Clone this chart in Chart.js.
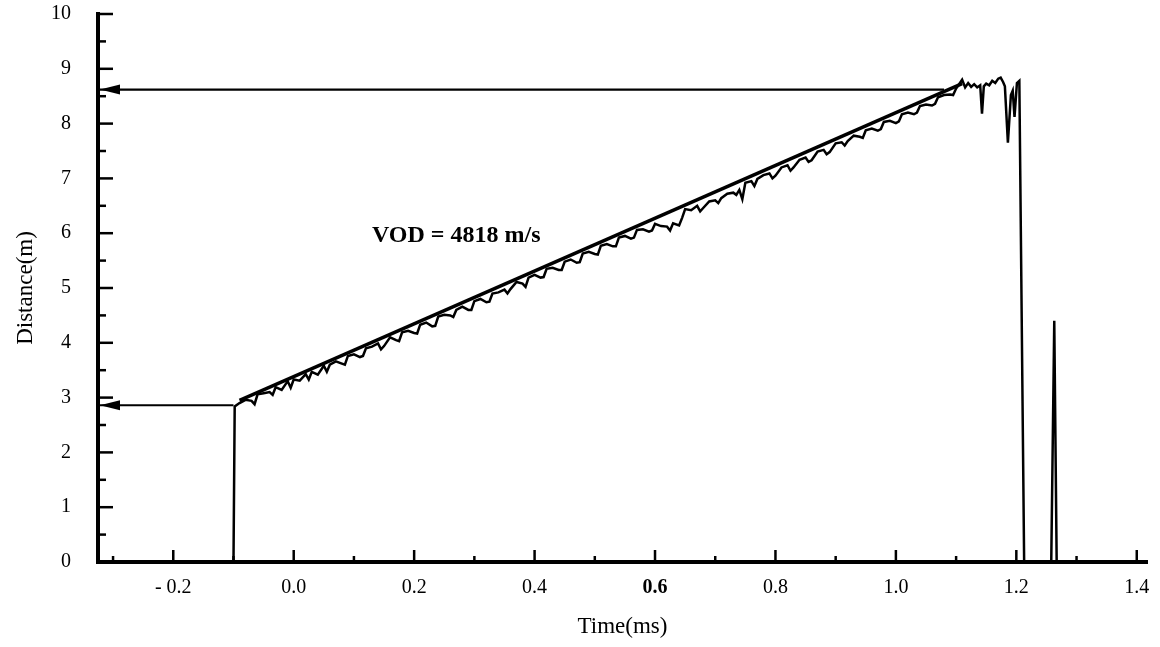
<!DOCTYPE html>
<html>
<head>
<meta charset="utf-8">
<script src="https://cdn.jsdelivr.net/npm/chart.js@4/dist/chart.umd.min.js"></script>
<style>
  html, body { margin: 0; padding: 0; background: #fff; }
  #wrap { width: 1160px; height: 647px; }
</style>
</head>
<body>
<div id="wrap"><canvas id="vodChart" width="1160" height="647"></canvas></div>
<script>
const SERIF = '"Liberation Serif", "Times New Roman", serif';

// axes
const X_MIN = -0.325;
const X_MAX = 1.417;
const xTickValues = [-0.2, 0.0, 0.2, 0.4, 0.6, 0.8, 1.0, 1.2, 1.4];
const xTickLabels = ['- 0.2', '0.0', '0.2', '0.4', '0.6', '0.8', '1.0', '1.2', '1.4'];
const yTickValues = [0, 1, 2, 3, 4, 5, 6, 7, 8, 9, 10];
const yTickLabels = ['0', '1', '2', '3', '4', '5', '6', '7', '8', '9', '10'];

// measured trace (time in ms, distance in m)
const traceTimes = [
  -0.325, -0.100, -0.098,
  -0.09, -0.08, -0.07, -0.06, -0.05, -0.04, -0.03, -0.02, -0.01,
  0.00, 0.01, 0.02, 0.03, 0.04, 0.05, 0.06, 0.07, 0.08, 0.09,
  0.10, 0.11, 0.12, 0.13, 0.14, 0.15, 0.16, 0.17, 0.18, 0.19,
  0.20, 0.21, 0.22, 0.23, 0.24, 0.25, 0.26, 0.27, 0.28, 0.29,
  0.30, 0.31, 0.32, 0.33, 0.34, 0.35, 0.36, 0.37, 0.38, 0.39,
  0.40, 0.41, 0.42, 0.43, 0.44, 0.45, 0.46, 0.47, 0.48, 0.49,
  0.50, 0.51, 0.52, 0.53, 0.54, 0.55, 0.56, 0.57, 0.58, 0.59,
  0.60, 0.61, 0.62, 0.63, 0.64, 0.645,
  0.65, 0.66, 0.67, 0.68, 0.69, 0.70, 0.71, 0.72, 0.73, 0.74, 0.745,
  0.75, 0.76, 0.77, 0.78, 0.79,
  0.80, 0.81, 0.82, 0.83, 0.84, 0.85, 0.86, 0.87, 0.88, 0.89,
  0.90, 0.91, 0.92, 0.93, 0.94, 0.95, 0.96, 0.97, 0.98, 0.99,
  1.00, 1.01, 1.02, 1.03, 1.04, 1.05, 1.06, 1.07, 1.08, 1.09,
  1.10, 1.11,
  1.115, 1.12, 1.125, 1.13, 1.135, 1.14, 1.143, 1.146,
  1.15, 1.155, 1.16, 1.165, 1.17, 1.174, 1.178, 1.181, 1.186, 1.191,
  1.194, 1.197, 1.201, 1.205, 1.213, 1.258, 1.263, 1.267, 1.417
];
const traceDistances = [
  0.00, 0.00, 2.84,
  2.90, 2.96, 2.94, 3.06, 3.08, 3.10, 3.19, 3.14, 3.30,
  3.33, 3.31, 3.43, 3.47, 3.42, 3.58, 3.60, 3.66, 3.62, 3.76,
  3.79, 3.74, 3.90, 3.93, 3.99, 3.94, 4.10, 4.05, 4.19, 4.22,
  4.18, 4.33, 4.37, 4.30, 4.48, 4.51, 4.50, 4.60, 4.66, 4.60,
  4.76, 4.80, 4.74, 4.90, 4.92, 4.97, 4.98, 5.11, 5.08, 5.19,
  5.24, 5.19, 5.35, 5.37, 5.33, 5.48, 5.52, 5.46, 5.63, 5.66,
  5.62, 5.77, 5.80, 5.76, 5.92, 5.95, 5.90, 6.06, 6.07, 6.03,
  6.17, 6.13, 6.12, 6.18, 6.14, 6.28,
  6.44, 6.42, 6.50, 6.46, 6.58, 6.60, 6.64, 6.72, 6.74, 6.79, 6.62,
  6.92, 6.95, 6.99, 7.06, 7.09,
  7.05, 7.20, 7.24, 7.20, 7.34, 7.38, 7.33, 7.49, 7.52, 7.48,
  7.64, 7.66, 7.68, 7.78, 7.76, 7.88, 7.91, 7.87, 8.03, 8.05,
  8.01, 8.17, 8.20, 8.17, 8.32, 8.35, 8.33, 8.48, 8.52, 8.53,
  8.64, 8.80,
  8.66, 8.74, 8.67, 8.72, 8.66, 8.70, 8.18, 8.68,
  8.73, 8.70, 8.78, 8.74, 8.82, 8.84, 8.76, 8.68, 7.65, 8.52,
  8.60, 8.12, 8.74, 8.78, 0.00, 0.00, 4.40, 0.00, 0.00
];

// short downward noise spikes between the samples above
const spikeTimes = [
  -0.065, -0.035, -0.005, 0.025, 0.055, 0.085, 0.115, 0.145, 0.175, 0.205,
  0.235, 0.265, 0.295, 0.325, 0.355, 0.385, 0.415, 0.445, 0.475, 0.505,
  0.535, 0.565, 0.595, 0.625, 0.675, 0.705, 0.735, 0.765, 0.795, 0.825,
  0.855, 0.885, 0.915, 0.945, 0.975, 1.005, 1.035, 1.065, 1.095
];
const spikeDistances = [
  2.88, 3.05, 3.18, 3.33, 3.47, 3.60, 3.76, 3.88, 4.03, 4.17,
  4.31, 4.47, 4.60, 4.75, 4.90, 5.02, 5.20, 5.33, 5.47, 5.61,
  5.76, 5.92, 6.05, 6.05, 6.40, 6.55, 6.70, 6.86, 7.00, 7.14,
  7.30, 7.44, 7.60, 7.74, 7.90, 8.04, 8.20, 8.36, 8.52
];

// least-squares line, VOD = 4818 m/s
const fitTimes = [-0.09, 1.11];
const fitDistances = [2.95, 8.73];

// arrows pointing to the y axis
const arrowLevels = [8.62, 2.86];
const arrowEnds = [1.08, -0.10];

const vodLabel = 'VOD = 4818 m/s';
const vodAt = { x: 0.13, y: 5.96 };

function toPoints(xs, ys) {
  return xs.map((x, i) => ({ x: x, y: ys[i] }));
}

const tracePoints = toPoints(traceTimes, traceDistances)
  .concat(toPoints(spikeTimes, spikeDistances))
  .sort((a, b) => a.x - b.x);

const arrowDatasets = arrowLevels.map((lvl, i) => ({
  label: 'arrow' + i,
  data: [{ x: X_MIN, y: lvl }, { x: arrowEnds[i], y: lvl }],
  borderColor: '#000',
  borderWidth: 2.2,
  pointRadius: 0
}));

// ticks pointing into the plot + arrowheads + VOD text
const decorPlugin = {
  id: 'decor',
  afterDatasetsDraw(chart) {
    const { ctx, scales: { x, y } } = chart;
    ctx.save();
    ctx.fillStyle = '#000';
    arrowLevels.forEach(lvl => {
      const py = y.getPixelForValue(lvl);
      const px = x.getPixelForValue(X_MIN) + 2;
      ctx.beginPath();
      ctx.moveTo(px, py);
      ctx.lineTo(px + 20, py - 5);
      ctx.lineTo(px + 20, py + 5);
      ctx.closePath();
      ctx.fill();
    });
    ctx.restore();
  },
  afterDraw(chart) {
    const { ctx, chartArea, scales: { x, y } } = chart;
    ctx.save();
    ctx.strokeStyle = '#000';
    ctx.lineWidth = 2.5;
    // y ticks: every 0.5, long on integers
    for (let v = 0; v <= 10; v += 0.5) {
      const py = y.getPixelForValue(v);
      const len = Number.isInteger(v) ? 15 : 8;
      ctx.beginPath();
      ctx.moveTo(chartArea.left, py);
      ctx.lineTo(chartArea.left + len, py);
      ctx.stroke();
    }
    // x ticks: every 0.1, long on labelled ones
    for (let k = -3; k <= 14; k++) {
      const px = x.getPixelForValue(k / 10);
      const len = k % 2 === 0 ? 12 : 6;
      ctx.beginPath();
      ctx.moveTo(px, chartArea.bottom);
      ctx.lineTo(px, chartArea.bottom - len);
      ctx.stroke();
    }
    ctx.fillStyle = '#000';
    ctx.font = 'bold 24px ' + SERIF;
    ctx.textBaseline = 'middle';
    ctx.textAlign = 'left';
    ctx.fillText(vodLabel, x.getPixelForValue(vodAt.x), y.getPixelForValue(vodAt.y));
    ctx.restore();
  }
};

new Chart(document.getElementById('vodChart'), {
  type: 'line',
  data: {
    datasets: [
      {
        label: 'trace',
        data: tracePoints,
        borderColor: '#000',
        borderWidth: 2.5,
        pointRadius: 0
      },
      {
        label: 'fit',
        data: toPoints(fitTimes, fitDistances),
        borderColor: '#000',
        borderWidth: 3.5,
        pointRadius: 0
      },
      ...arrowDatasets
    ]
  },
  options: {
    responsive: false,
    devicePixelRatio: 1,
    animation: false,
    layout: { padding: { left: 8, right: 13, top: 14, bottom: 0 } },
    plugins: {
      legend: { display: false },
      tooltip: { enabled: false }
    },
    elements: { line: { tension: 0 } },
    scales: {
      x: {
        type: 'linear',
        min: X_MIN,
        max: X_MAX,
        afterBuildTicks: s => { s.ticks = xTickValues.map(v => ({ value: v })); },
        afterFit: s => { s.height = 85; s.paddingLeft = 0; s.paddingRight = 0; },
        grid: { drawOnChartArea: false, drawTicks: false },
        border: { color: '#000', width: 4 },
        ticks: {
          autoSkip: false,
          maxRotation: 0,
          padding: 14,
          color: '#000',
          font: c => ({ family: SERIF, size: 20, weight: (c.tick && c.tick.value === 0.6) ? 'bold' : 'normal' }),
          callback: (v, i) => xTickLabels[i]
        },
        title: {
          display: true,
          text: 'Time(ms)',
          color: '#000',
          font: { family: SERIF, size: 23 },
          padding: { top: 0, bottom: 6 }
        }
      },
      y: {
        type: 'linear',
        min: 0,
        max: 10,
        afterBuildTicks: s => { s.ticks = yTickValues.map(v => ({ value: v })); },
        afterFit: s => { s.width = 90; s.paddingTop = 0; s.paddingBottom = 0; },
        grid: { drawOnChartArea: false, drawTicks: false },
        border: { color: '#000', width: 4 },
        ticks: {
          autoSkip: false,
          padding: 27,
          color: '#000',
          font: { family: SERIF, size: 20 },
          callback: (v, i) => yTickLabels[i]
        },
        title: {
          display: true,
          text: 'Distance(m)',
          color: '#000',
          font: { family: SERIF, size: 23 },
          padding: { top: 4, bottom: 0 }
        }
      }
    }
  },
  plugins: [decorPlugin]
});
</script>
</body>
</html>
